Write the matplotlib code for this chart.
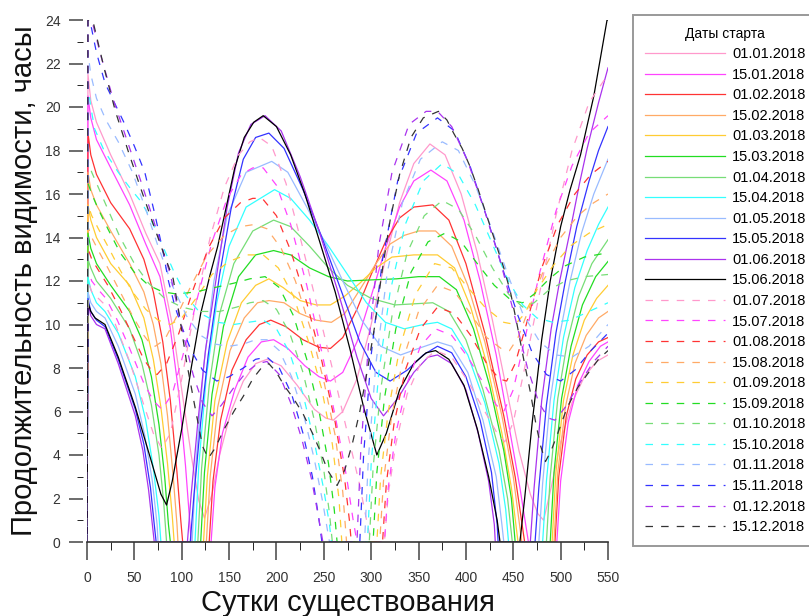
import matplotlib
matplotlib.use("Agg")
import matplotlib.pyplot as plt

plt.rcParams['font.family'] = ['Liberation Sans', 'DejaVu Sans']

# ---------------------------------------------
# Данные: (сутки, часы) для каждой даты старта
# ---------------------------------------------
c0101 = [(0, 0), (1, 21.5), (4, 20.3), (10, 19.3), (25, 17.8), (45, 16.0), (62, 14.2), (77, 12.8), (90, 10.0), (100, 7.0),
         (110, 4.0), (118, 1.9), (124, 1.1), (132, 2.2), (140, 4.0), (152, 6.0), (165, 7.4), (178, 8.2), (190, 8.4),
         (205, 8.1), (222, 7.2), (240, 6.1), (252, 5.7), (260, 5.6), (270, 6.0), (285, 7.5), (300, 10.0), (315, 13.0),
         (330, 15.6), (345, 17.4), (362, 18.3), (378, 17.8), (395, 16.0), (412, 13.3), (428, 10.2), (443, 7.0),
         (456, 4.2), (468, 2.2), (476, 1.3), (482, 1.0), (490, 2.5), (500, 4.6), (512, 6.4), (525, 7.6), (538, 8.3),
         (550, 8.6)]
c1501 = [(0, 0), (1, 20.5), (4, 19.5), (10, 18.5), (25, 17.2), (45, 15.5), (62, 13.7), (77, 12.2), (88, 9.8), (97, 6.8),
         (104, 3.5), (108, 1.2), (110, 0), (131, 0), (135, 2.5), (143, 5.0), (156, 7.0), (170, 8.5), (184, 9.2),
         (197, 9.3), (212, 8.9), (230, 8.1), (245, 7.6), (257, 7.4), (270, 7.8), (285, 9.2), (300, 11.3), (315, 13.5),
         (330, 15.4), (345, 16.6), (363, 17.1), (380, 16.6), (398, 14.8), (415, 12.0), (432, 8.6), (446, 5.2),
         (457, 2.5), (466, 0), (496, 0), (500, 2.8), (508, 5.5), (518, 7.2), (530, 8.3), (542, 9.0), (550, 9.2)]
c0102 = [(0, 0), (1, 18.8), (4, 17.8), (10, 16.9), (25, 15.6), (45, 14.4), (60, 13.0), (70, 11.5), (80, 9.2), (88, 6.5),
         (95, 3.2), (99, 1.0), (101, 0), (129, 0), (133, 2.8), (141, 5.6), (153, 7.9), (168, 9.3), (182, 10.0),
         (194, 10.2), (210, 9.9), (228, 9.3), (245, 8.95), (257, 8.9), (270, 9.4), (285, 10.7), (300, 12.3), (315, 13.8),
         (330, 14.9), (345, 15.4), (365, 15.5), (382, 14.8), (400, 12.8), (420, 9.6), (440, 5.8), (452, 3.0), (462, 0),
         (494, 0), (498, 3.0), (506, 5.8), (516, 7.5), (528, 8.6), (540, 9.2), (550, 9.4)]
c1502 = [(0, 0), (1, 17.0), (4, 16.2), (10, 15.5), (25, 14.3), (45, 12.8), (60, 11.5), (70, 10.0), (78, 8.2), (85, 5.8),
         (91, 3.0), (95, 0.8), (96, 0), (126, 0), (130, 3.0), (138, 6.2), (151, 8.8), (166, 10.3), (180, 11.0),
         (192, 11.1), (208, 11.0), (225, 10.5), (242, 10.2), (258, 10.1), (272, 10.5), (288, 11.6), (305, 12.8),
         (320, 13.7), (335, 14.1), (350, 14.3), (368, 14.3), (385, 13.6), (402, 11.8), (420, 9.2), (438, 5.8),
         (450, 3.0), (459, 0), (493, 0), (497, 3.2), (505, 6.2), (515, 8.2), (527, 9.5), (540, 10.3), (550, 10.6)]
c0103 = [(0, 0), (1, 15.5), (4, 14.8), (10, 14.0), (25, 12.8), (45, 11.8), (60, 10.3), (70, 8.4), (78, 6.2), (85, 3.6),
         (90, 1.2), (92, 0), (123, 0), (127, 3.0), (135, 6.5), (148, 9.2), (163, 11.0), (178, 11.8), (192, 12.1),
         (207, 11.7), (225, 11.1), (242, 10.9), (257, 10.9), (272, 11.3), (288, 11.9), (305, 12.6), (322, 13.1),
         (345, 13.2), (370, 13.2), (388, 12.6), (405, 10.8), (422, 8.2), (438, 5.0), (448, 2.5), (455, 0), (491, 0),
         (495, 3.2), (503, 6.5), (513, 8.6), (525, 10.2), (538, 11.2), (550, 11.8)]
c1503 = [(0, 0), (1, 14.2), (4, 13.5), (10, 12.8), (25, 11.8), (45, 10.6), (58, 9.3), (68, 7.6), (76, 5.4), (82, 3.0),
         (86, 0.8), (88, 0), (120, 0), (124, 3.2), (132, 6.8), (144, 9.9), (160, 12.2), (178, 13.2), (197, 13.4),
         (215, 13.2), (235, 12.6), (255, 12.2), (275, 12.0), (300, 12.05), (327, 12.1), (350, 12.2), (372, 12.2),
         (390, 11.6), (408, 9.8), (425, 7.2), (440, 4.2), (448, 2.0), (452, 0), (489, 0), (493, 3.2), (501, 6.6),
         (511, 9.0), (523, 10.9), (537, 12.2), (550, 12.9)]
c0104 = [(0, 0), (1, 13.0), (4, 12.6), (10, 12.0), (25, 11.2), (45, 9.8), (58, 8.2), (68, 6.3), (76, 4.0), (81, 1.8),
         (84, 0), (117, 0), (121, 3.4), (129, 7.2), (140, 10.5), (155, 12.8), (175, 14.3), (197, 14.8), (215, 14.5),
         (235, 13.6), (255, 12.6), (275, 11.8), (300, 11.2), (325, 10.9), (345, 10.95), (365, 11.0), (382, 10.6),
         (400, 9.3), (418, 7.0), (435, 4.2), (444, 2.0), (449, 0), (485, 0), (489, 3.0), (497, 6.6), (507, 9.2),
         (519, 11.3), (533, 12.8), (550, 13.9)]
c1504 = [(0, 0), (1, 12.2), (4, 11.6), (10, 11.0), (19, 10.6), (33, 9.6), (51, 7.6), (62, 5.6), (70, 3.4), (76, 1.2),
         (78, 0), (114, 0), (118, 3.5), (126, 7.6), (137, 11.0), (150, 13.6), (168, 15.4), (198, 16.2), (215, 15.8),
         (235, 14.8), (255, 13.6), (275, 12.3), (295, 11.0), (315, 10.1), (335, 9.8), (355, 10.0), (370, 10.1),
         (385, 9.8), (402, 8.6), (420, 6.4), (435, 3.6), (442, 1.5), (445, 0), (481, 0), (485, 2.8), (493, 6.5),
         (503, 9.4), (515, 11.7), (528, 13.4), (540, 14.6), (550, 15.4)]
c0105 = [(0, 0), (1, 11.5), (4, 11.0), (10, 10.6), (19, 10.3), (33, 9.0), (51, 6.8), (61, 4.9), (69, 2.8), (74, 0.8),
         (75, 0), (111, 0), (115, 3.6), (123, 8.0), (134, 12.0), (148, 15.0), (168, 17.0), (195, 17.5), (212, 17.0),
         (232, 15.4), (252, 13.7), (270, 12.0), (290, 10.2), (310, 9.0), (331, 8.6), (350, 8.9), (370, 9.2), (385, 9.0),
         (402, 7.8), (418, 5.6), (432, 3.0), (438, 0.8), (440, 0), (477, 0), (481, 2.7), (489, 6.5), (499, 9.5),
         (510, 12.0), (522, 14.2), (535, 16.0), (550, 17.6)]
c1505 = [(0, 0), (1, 11.2), (4, 10.6), (10, 10.2), (19, 9.9), (33, 8.4), (51, 6.1), (60, 4.5), (67, 2.5), (71, 0.8),
         (73, 0), (109, 0), (113, 2.2), (120, 5.5), (128, 8.6), (140, 12.3), (152, 15.3), (165, 17.6), (178, 18.6),
         (192, 18.8), (208, 18.1), (228, 16.2), (248, 14.0), (268, 11.6), (288, 9.2), (305, 7.8), (320, 7.4),
         (338, 7.9), (355, 8.6), (370, 9.0), (385, 8.7), (400, 7.6), (415, 5.6), (427, 3.2), (433, 0.8), (434, 0),
         (473, 0), (477, 2.5), (485, 6.3), (495, 9.6), (505, 12.0), (517, 14.5), (530, 16.6), (540, 18.0), (550, 19.1)]
c0106 = [(0, 0), (1, 11.0), (4, 10.4), (10, 10.0), (19, 9.8), (33, 8.2), (51, 5.8), (59, 4.2), (65, 2.4), (69, 0.8),
         (71, 0), (106, 0), (110, 2.2), (117, 5.5), (125, 8.8), (137, 12.3), (148, 15.4), (160, 17.9), (173, 19.2),
         (188, 19.6), (205, 18.9), (225, 16.8), (245, 14.3), (265, 11.5), (285, 8.5), (300, 6.6), (313, 5.8), (328, 6.6),
         (345, 7.8), (360, 8.5), (370, 8.6), (385, 8.2), (400, 7.0), (413, 5.0), (424, 2.8), (430, 0.8), (431, 0),
         (468, 0), (472, 2.5), (480, 6.5), (490, 9.8), (499, 12.0), (510, 14.3), (520, 16.5), (528, 18.1), (540, 20.2),
         (550, 21.8)]
c1506 = [(0, 0), (1, 11.0), (4, 10.6), (8.5, 10.3), (19, 10.0), (33, 8.5), (51, 6.2), (68, 3.7), (78, 2.2), (84, 1.7),
         (90, 2.8), (100, 5.2), (110, 8.0), (120, 10.5), (130, 12.3), (138, 13.6), (146, 15.2), (156, 17.2), (166, 18.6),
         (176, 19.3), (186, 19.6), (200, 19.1), (215, 17.8), (230, 16.0), (245, 13.9), (262, 11.5), (278, 8.8),
         (292, 6.2), (306, 4.0), (316, 5.0), (330, 7.0), (345, 8.2), (358, 8.7), (368, 8.8), (382, 8.4), (398, 7.2),
         (412, 5.2), (424, 3.0), (433, 1.0), (436, 0), (457, 0), (462, 2.0), (470, 5.5), (480, 9.3), (489, 12.0),
         (500, 14.5), (510, 16.2), (521, 17.8), (535, 20.5), (549, 24.0), (550, 24.0)]

c0107 = [(0, 0), (1, 12.0), (5, 11.5), (12, 11.2), (19, 10.9), (30, 10.0), (45, 8.3), (60, 6.3), (70, 5.0), (79, 4.3),
         (88, 5.0), (100, 7.5), (115, 11.0), (130, 14.0), (145, 16.3), (160, 17.8), (172, 18.4), (182, 18.6),
         (195, 18.2), (210, 16.5), (228, 13.5), (245, 10.5), (260, 7.8), (275, 5.0), (288, 2.6), (296, 0.8), (300, 0),
         (314, 0), (318, 2.2), (326, 4.5), (338, 6.8), (352, 8.2), (368, 8.8), (385, 8.5), (402, 7.4), (420, 6.0),
         (433, 5.0), (441, 4.6), (450, 5.5), (462, 8.0), (478, 11.5), (495, 15.0), (512, 18.0), (530, 20.2), (550, 21.5)]
c1507 = [(0, 0), (1, 12.5), (5, 12.0), (12, 11.6), (20, 11.2), (32, 10.2), (45, 8.9), (60, 7.3), (70, 6.5), (79, 6.1),
         (90, 6.8), (102, 8.7), (117, 11.3), (132, 13.8), (148, 15.8), (163, 16.9), (175, 17.2), (186, 17.2),
         (200, 16.4), (215, 14.6), (232, 11.8), (248, 8.7), (262, 5.8), (274, 3.0), (281, 1.0), (285, 0), (314, 0),
         (318, 2.5), (326, 5.0), (338, 7.3), (352, 9.0), (368, 9.8), (385, 9.5), (402, 8.5), (420, 7.2), (432, 6.3),
         (440, 6.0), (450, 7.0), (462, 9.3), (478, 12.4), (495, 15.2), (512, 17.3), (530, 18.8), (550, 19.6)]
c0108 = [(0, 0), (1, 13.5), (5, 13.0), (12, 12.5), (22, 11.8), (35, 10.7), (48, 9.5), (60, 8.4), (68, 7.9), (74, 7.7),
         (84, 8.2), (97, 9.6), (112, 11.6), (128, 13.5), (145, 14.9), (162, 15.6), (175, 15.8), (185, 15.8), (200, 15.0),
         (215, 13.4), (232, 11.0), (248, 8.3), (262, 5.5), (272, 2.9), (277, 1.0), (279, 0), (312, 0), (316, 2.7),
         (324, 5.4), (336, 7.9), (352, 9.8), (370, 10.8), (388, 10.5), (405, 9.5), (422, 8.2), (435, 7.5), (443, 7.4),
         (452, 8.2), (465, 10.2), (480, 12.6), (497, 14.6), (515, 16.0), (532, 16.9), (550, 17.5)]
c1508 = [(0, 0), (1, 14.5), (5, 14.0), (12, 13.4), (22, 12.6), (35, 11.5), (48, 10.4), (60, 9.5), (67, 9.1), (72, 9.0),
         (82, 9.3), (95, 10.4), (110, 11.8), (127, 13.2), (145, 14.1), (162, 14.5), (177, 14.6), (190, 14.4),
         (205, 13.5), (220, 12.0), (236, 9.8), (250, 7.4), (262, 4.9), (270, 2.3), (274, 0), (309, 0), (313, 2.8),
         (321, 5.6), (333, 8.3), (350, 10.6), (370, 11.8), (388, 11.5), (405, 10.5), (422, 9.4), (437, 8.9), (446, 8.8),
         (455, 9.4), (468, 10.9), (483, 12.6), (500, 14.0), (518, 15.0), (535, 15.6), (550, 16.0)]
c0109 = [(0, 0), (1, 15.5), (5, 15.0), (12, 14.4), (22, 13.6), (35, 12.5), (48, 11.5), (62, 10.7), (75, 10.2), (88, 10.0),
         (100, 10.3), (115, 11.2), (132, 12.3), (150, 12.9), (168, 13.2), (186, 13.2), (202, 12.6), (218, 11.3),
         (234, 9.2), (248, 7.0), (259, 4.5), (266, 2.0), (269, 0), (306, 0), (310, 3.0), (318, 6.0), (330, 8.9),
         (347, 11.4), (367, 12.8), (385, 12.6), (402, 11.7), (420, 10.8), (440, 10.1), (452, 10.0), (462, 10.5),
         (475, 11.6), (492, 12.7), (510, 13.6), (530, 14.2), (550, 14.6)]
c1509 = [(0, 0), (1, 16.5), (5, 16.0), (12, 15.3), (22, 14.4), (35, 13.3), (50, 12.4), (65, 11.8), (80, 11.5), (95, 11.4),
         (115, 11.5), (135, 11.7), (155, 11.9), (172, 12.1), (188, 12.2), (203, 11.7), (218, 10.4), (232, 8.4),
         (245, 6.0), (255, 3.6), (261, 1.5), (264, 0), (302, 0), (306, 3.2), (314, 6.6), (326, 9.8), (342, 12.4),
         (360, 13.8), (378, 14.2), (395, 13.8), (412, 12.8), (430, 11.8), (448, 11.1), (460, 11.0), (472, 11.4),
         (488, 12.1), (505, 12.7), (525, 13.1), (550, 13.3)]
c0110 = [(0, 0), (1, 17.5), (5, 17.0), (12, 16.3), (22, 15.3), (35, 14.0), (50, 12.8), (65, 11.9), (82, 11.2), (100, 10.8),
         (120, 10.6), (140, 10.6), (158, 10.8), (172, 11.0), (186, 11.1), (200, 10.7), (214, 9.6), (228, 7.8),
         (240, 5.6), (250, 3.3), (256, 1.3), (259, 0), (298, 0), (302, 3.4), (310, 7.0), (322, 10.4), (338, 13.3),
         (356, 15.0), (375, 15.7), (392, 15.3), (410, 14.1), (428, 12.6), (445, 11.4), (460, 10.8), (472, 11.0),
         (488, 11.6), (505, 12.0), (525, 12.2), (550, 12.3)]
c1510 = [(0, 0), (1, 21.0), (4, 20.0), (8, 19.0), (18, 18.0), (33, 17.0), (45, 16.3), (58, 15.6), (70, 14.6), (80, 13.6),
         (92, 12.4), (105, 11.3), (120, 10.5), (138, 10.1), (155, 10.0), (170, 10.1), (186, 10.2), (200, 9.8),
         (214, 8.7), (228, 6.8), (240, 4.6), (250, 2.4), (256, 0.8), (258, 0), (296, 0), (300, 3.6), (308, 7.8),
         (320, 11.5), (336, 14.6), (355, 16.6), (375, 17.4), (392, 16.9), (410, 15.5), (428, 13.7), (445, 12.0),
         (460, 10.9), (475, 10.3), (492, 10.1), (510, 10.2), (530, 10.6), (550, 11.0)]
c0111 = [(0, 0), (1, 22.5), (4, 21.5), (10, 20.4), (20, 19.4), (33, 18.4), (48, 17.0), (62, 15.3), (75, 13.6), (90, 11.8),
         (105, 10.4), (120, 9.5), (135, 9.1), (150, 9.0), (165, 9.1), (178, 9.3), (190, 9.3), (203, 8.8), (216, 7.6),
         (229, 5.8), (240, 3.8), (249, 1.8), (254, 0.5), (256, 0), (293, 0), (297, 3.8), (305, 8.2), (317, 12.4),
         (333, 15.6), (352, 17.6), (375, 18.4), (392, 18.0), (410, 16.4), (428, 14.3), (445, 12.2), (460, 10.5),
         (478, 9.2), (495, 8.6), (512, 8.5), (530, 9.0), (550, 10.0)]
c1511 = [(0, 0), (1, 24.0), (3, 24.0), (10, 22.5), (19, 21.1), (30, 20.1), (40, 19.2), (50, 18.2), (61, 17.0), (72, 15.0),
         (80, 13.4), (86, 12.0), (93, 10.8), (100, 9.9), (110, 8.8), (122, 7.9), (137, 7.4), (150, 7.6), (165, 8.0),
         (178, 8.4), (190, 8.5), (203, 8.0), (216, 6.8), (228, 5.0), (238, 3.0), (245, 1.0), (248, 0), (288, 0),
         (292, 4.0), (300, 8.6), (312, 13.0), (328, 16.6), (348, 18.8), (370, 19.5), (388, 18.9), (405, 17.2),
         (423, 14.8), (440, 12.4), (455, 10.4), (470, 8.7), (485, 7.7), (500, 7.4), (515, 7.9), (532, 8.8), (550, 9.6)]
c0112 = [(0, 0), (1, 24.0), (5, 24.0), (15, 22.3), (28, 20.3), (42, 18.5), (56, 16.7), (68, 15.1), (78, 13.7), (88, 12.3),
         (95, 10.9), (103, 9.3), (112, 7.7), (122, 6.4), (132, 5.8), (142, 6.3), (155, 7.1), (168, 7.8), (180, 8.2),
         (190, 8.3), (203, 7.7), (215, 6.4), (227, 4.7), (237, 2.9), (245, 1.0), (249, 0), (285, 0), (289, 4.2),
         (297, 9.0), (308, 13.6), (322, 17.0), (340, 19.2), (358, 19.8), (370, 19.8), (385, 19.1), (402, 17.5),
         (420, 15.2), (437, 12.8), (452, 10.3), (465, 8.0), (477, 6.4), (487, 5.7), (494, 5.6), (505, 6.2), (520, 7.3),
         (535, 8.3), (550, 9.0)]
c1512 = [(0, 0), (1, 24.0), (6, 24.0), (18, 21.8), (30, 19.8), (44, 17.9), (58, 16.1), (70, 14.6), (79, 13.5), (91, 12.1),
         (98, 10.3), (105, 8.3), (114, 6.2), (122, 4.4), (128, 3.85), (135, 4.3), (145, 5.2), (155, 6.0), (165, 6.7),
         (175, 7.5), (184, 8.0), (192, 8.2), (200, 7.8), (208, 7.2), (218, 6.6), (228, 5.9), (238, 5.0), (246, 4.2),
         (254, 3.3), (264, 2.6), (272, 3.3), (280, 4.5), (288, 6.0), (296, 7.9), (304, 10.0), (311, 12.3), (320, 14.8),
         (330, 16.9), (342, 18.6), (355, 19.5), (371, 19.8), (380, 19.4), (387, 18.8), (396, 18.1), (404, 17.3),
         (413, 16.2), (422, 15.0), (431, 13.8), (440, 12.6), (447, 11.5), (454, 10.0), (461, 8.4), (468, 6.9),
         (474, 5.4), (479, 4.4), (484, 3.7), (490, 4.2), (497, 5.0), (507, 6.2), (518, 7.1), (528, 7.7), (540, 8.4),
         (550, 8.8)]

curves = [c0101, c1501, c0102, c1502, c0103, c1503, c0104, c1504, c0105, c1505, c0106, c1506,
          c0107, c1507, c0108, c1508, c0109, c1509, c0110, c1510, c0111, c1511, c0112, c1512]
labels = ['01.01.2018', '15.01.2018', '01.02.2018', '15.02.2018', '01.03.2018', '15.03.2018',
          '01.04.2018', '15.04.2018', '01.05.2018', '15.05.2018', '01.06.2018', '15.06.2018',
          '01.07.2018', '15.07.2018', '01.08.2018', '15.08.2018', '01.09.2018', '15.09.2018',
          '01.10.2018', '15.10.2018', '01.11.2018', '15.11.2018', '01.12.2018', '15.12.2018']
palette = ['#FF99CC', '#FF44FF', '#FF3333', '#FFAA66', '#FFCC33', '#22DD22',
           '#77DD77', '#33FFFF', '#99BBFF', '#3333FF', '#AA33EE', '#000000']

# =====================
# Рисунок
# =====================
fig = plt.figure(figsize=(8.09, 6.16), dpi=100)
ax = fig.add_axes([87 / 809, 1 - 542 / 616, 521 / 809, 522 / 616])

for k, (pts, lab) in enumerate(zip(curves, labels)):
    days = [p[0] for p in pts]
    hours = [p[1] for p in pts]
    col = palette[k % 12]
    if k < 12:
        ax.plot(days, hours, color=col, lw=0.9, label=lab)
    else:
        if col == '#000000':
            col = '#333333'
        ax.plot(days, hours, color=col, lw=0.9, dashes=(6.0, 6.5), label=lab)

ax.set_xlim(0, 550)
ax.set_ylim(0, 24)

for s in ['top', 'right', 'left']:
    ax.spines[s].set_visible(False)
ax.spines['left'].set_position(('outward', 3))
ax.spines['bottom'].set_color('#333333')
ax.spines['bottom'].set_linewidth(1.2)

ax.set_xticks(range(0, 551, 50))
ax.set_xticks(range(25, 551, 50), minor=True)
ax.set_yticks(range(0, 25, 2))
ax.set_yticks(range(1, 24, 2), minor=True)
ax.tick_params(axis='both', colors='#444444', labelcolor='#333333', labelsize=10, width=1.1)
ax.tick_params(axis='x', which='major', length=13, pad=8)
ax.tick_params(axis='x', which='minor', length=6)
ax.tick_params(axis='y', which='major', length=10, pad=6)
ax.tick_params(axis='y', which='minor', length=4.3)

ax.set_xlabel('Сутки существования', fontsize=21, color='#111111')
ax.xaxis.set_label_coords(0.5, -0.09)
ax.set_ylabel('Продолжительность видимости, часы', fontsize=21, color='#111111')
ax.yaxis.set_label_coords(-0.095, 0.5)

leg = ax.legend(loc='upper left', bbox_to_anchor=(633 / 809, 1 - 15 / 616), bbox_transform=fig.transFigure,
                title='Даты старта', fontsize=10.5, title_fontsize=10, fancybox=False, framealpha=1,
                edgecolor='#999999', handlelength=5.5, handletextpad=0.5, labelspacing=0.45,
                borderpad=0.8, borderaxespad=0)
leg.get_frame().set_linewidth(1.4)

fig.savefig('out.png', dpi=100)
